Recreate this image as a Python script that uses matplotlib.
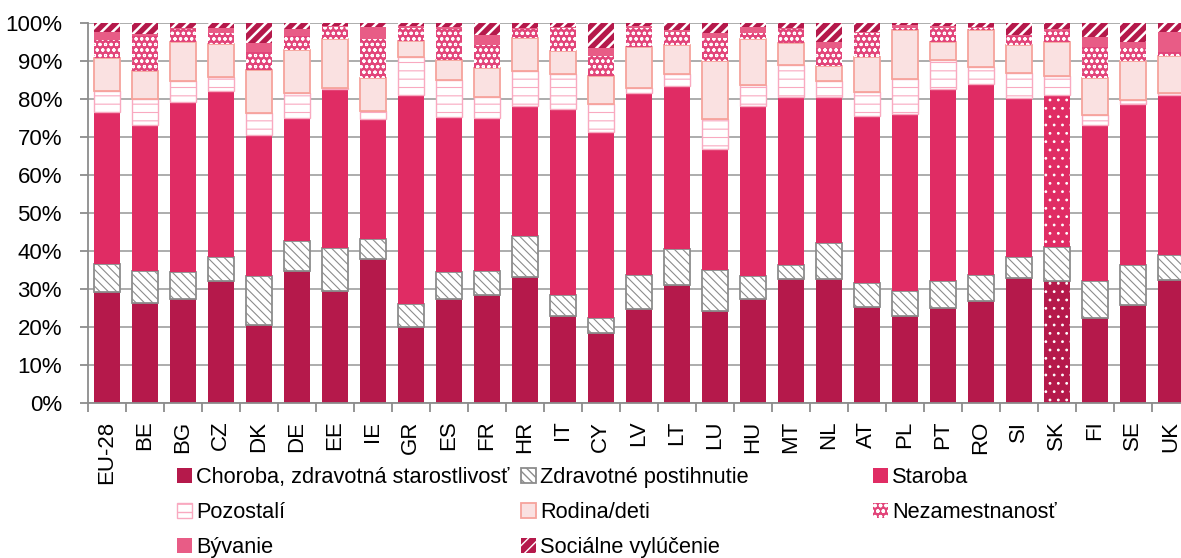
import numpy as np
import matplotlib
matplotlib.use('Agg')
import matplotlib.pyplot as plt

plt.rcParams['font.family'] = ['Liberation Sans', 'DejaVu Sans']
plt.rcParams['font.size'] = 16

# krajiny
krajiny = ['EU-28', 'BE', 'BG', 'CZ', 'DK', 'DE', 'EE', 'IE', 'GR', 'ES', 'FR', 'HR', 'IT', 'CY',
           'LV', 'LT', 'LU', 'HU', 'MT', 'NL', 'AT', 'PL', 'PT', 'RO', 'SI', 'SK', 'FI', 'SE', 'UK']

# podiely jednotlivych funkcii (%)
choroba = [29.2, 26.3, 27.4, 32.2, 20.6, 34.7, 29.6, 37.9, 20.2, 27.5, 28.4, 33.3, 23.0, 18.6,
           24.7, 31.2, 24.4, 27.5, 32.8, 32.7, 25.4, 23.0, 25.0, 26.9, 33.1, 32.3, 22.5, 25.9, 32.5]
postihnutie = [7.4, 8.5, 7.2, 6.3, 12.9, 8.1, 11.4, 5.3, 5.9, 7.0, 6.3, 10.7, 5.5, 3.9,
               9.0, 9.3, 10.7, 6.1, 3.5, 9.4, 6.3, 6.6, 7.2, 6.8, 5.3, 8.8, 9.7, 10.5, 6.5]
staroba = [40.1, 38.5, 44.6, 43.8, 37.2, 32.4, 41.6, 31.5, 55.0, 40.8, 40.3, 34.2, 49.0, 48.8,
           47.9, 43.1, 31.8, 44.6, 44.4, 38.6, 44.0, 46.5, 50.4, 50.3, 41.9, 40.0, 41.0, 42.5, 42.1]
pozostali = [5.6, 6.8, 5.6, 3.5, 5.6, 6.4, 0.5, 2.2, 10.1, 9.8, 5.5, 9.3, 9.2, 7.6,
             1.3, 3.1, 7.9, 5.7, 8.3, 4.2, 6.1, 9.3, 7.8, 4.4, 6.5, 5.0, 2.7, 0.9, 0.5]
rodina = [8.7, 7.4, 10.4, 8.7, 11.5, 11.4, 12.8, 8.8, 4.2, 5.3, 7.7, 8.6, 6.1, 7.2,
          11.0, 7.6, 15.3, 11.9, 5.9, 4.0, 9.3, 12.8, 4.8, 9.8, 7.5, 9.1, 9.6, 10.4, 9.8]
nezamestnanost = [4.6, 9.2, 3.2, 2.9, 4.7, 3.7, 3.2, 10.1, 3.5, 8.0, 6.1, 2.3, 6.1, 5.3,
                  4.8, 3.5, 6.0, 1.6, 3.5, 4.7, 6.3, 0.7, 3.7, 0.5, 2.4, 2.9, 8.4, 3.2, 1.1]
byvanie = [2.0, 0.6, 0.3, 1.3, 2.4, 1.7, 0.3, 3.3, 0.4, 0.6, 2.6, 0.3, 0.2, 2.0,
           0.6, 0.4, 1.4, 1.7, 0.3, 1.6, 0.2, 0.6, 0.3, 0.3, 0.3, 0.3, 2.6, 1.8, 5.3]
vylucenie = [2.4, 2.7, 1.3, 1.3, 5.1, 1.6, 0.6, 0.9, 0.7, 1.0, 3.1, 1.3, 0.9, 6.6,
             0.7, 1.8, 2.5, 0.9, 1.3, 4.8, 2.4, 0.5, 0.8, 1.0, 3.0, 1.6, 3.5, 4.8, 2.2]

serie = [
    ('Choroba, zdravotná starostlivosť', choroba, dict(facecolor='#b5194b', edgecolor='#b5194b', linewidth=0)),
    ('Zdravotné postihnutie', postihnutie, dict(facecolor='white', edgecolor='#8c8c8c', linewidth=1.3, hatch='\\\\\\\\')),
    ('Staroba', staroba, dict(facecolor='#e02c64', edgecolor='#e02c64', linewidth=0)),
    ('Pozostalí', pozostali, dict(facecolor='white', edgecolor='#f9a9c0', linewidth=1.0, hatch='--')),
    ('Rodina/deti', rodina, dict(facecolor='#fae1e1', edgecolor='#f6a39c', linewidth=1.3)),
    ('Nezamestnanosť', nezamestnanost, dict(facecolor='#e2457a', edgecolor='white', linewidth=0, hatch='ooo')),
    ('Bývanie', byvanie, dict(facecolor='#e85c86', edgecolor='#e85c86', linewidth=0)),
    ('Sociálne vylúčenie', vylucenie, dict(facecolor='#b5194b', edgecolor='white', linewidth=0, hatch='///')),
]

fig = plt.figure(figsize=(11.81, 5.58), dpi=100)
ax = fig.add_axes([0.0743, 0.2772, 0.9331, 0.681])

x = np.arange(len(krajiny))
spodok = np.zeros(len(krajiny))
handles = []
for nazov, hodnoty, styl in serie:
    hlw = 1.8 if nazov == 'Sociálne vylúčenie' else 0.8
    with plt.rc_context({'hatch.linewidth': hlw}):
        b = ax.bar(x, hodnoty, 0.68, bottom=spodok, label=nazov, zorder=2, **styl)
    handles.append(b)
    # SK je bodkovane pri chorobe a starobe
    if nazov in ('Choroba, zdravotná starostlivosť', 'Staroba'):
        p = b.patches[krajiny.index('SK')]
        p.set_hatch('..')
        p.set_edgecolor('white')
    spodok += np.array(hodnoty)

ax.set_xlim(-0.5, len(krajiny) - 0.5)
ax.set_ylim(0, 100)
ax.set_yticks(np.arange(0, 101, 10))
ax.set_yticklabels([f'{v}%' for v in range(0, 101, 10)])
ax.set_xticks(x)
ax.set_xticklabels(krajiny, rotation=90)
ax.set_xticks(np.arange(-0.5, len(krajiny), 1), minor=True)
ax.tick_params(axis='x', which='major', length=0, pad=12.5)
ax.tick_params(axis='x', which='minor', length=6.5, width=1.3, color='#8c8c8c')
ax.tick_params(axis='y', length=6, width=1.3, color='#8c8c8c', pad=12.5)
ax.grid(axis='y', color='#a6a6a6', linewidth=1.3, zorder=0)
ax.set_axisbelow(True)
for s in ['top', 'right']:
    ax.spines[s].set_visible(False)
for s in ['left', 'bottom']:
    ax.spines[s].set_color('#8c8c8c')
    ax.spines[s].set_linewidth(1.3)

# legenda v troch stlpcoch
stlpce = [[0, 3, 6], [1, 4, 7], [2, 5]]
lavo = [177, 521, 873]
for idx, xl in zip(stlpce, lavo):
    fig.legend([handles[i] for i in idx], [serie[i][0] for i in idx],
               loc='upper left', bbox_to_anchor=(xl / 1181, 1 - 467 / 558),
               frameon=False, borderpad=0, borderaxespad=0, handlelength=0.69,
               handleheight=0.71, handletextpad=0.2, labelspacing=0.64, fontsize=15.7)

fig.savefig('out.png', dpi=100)
